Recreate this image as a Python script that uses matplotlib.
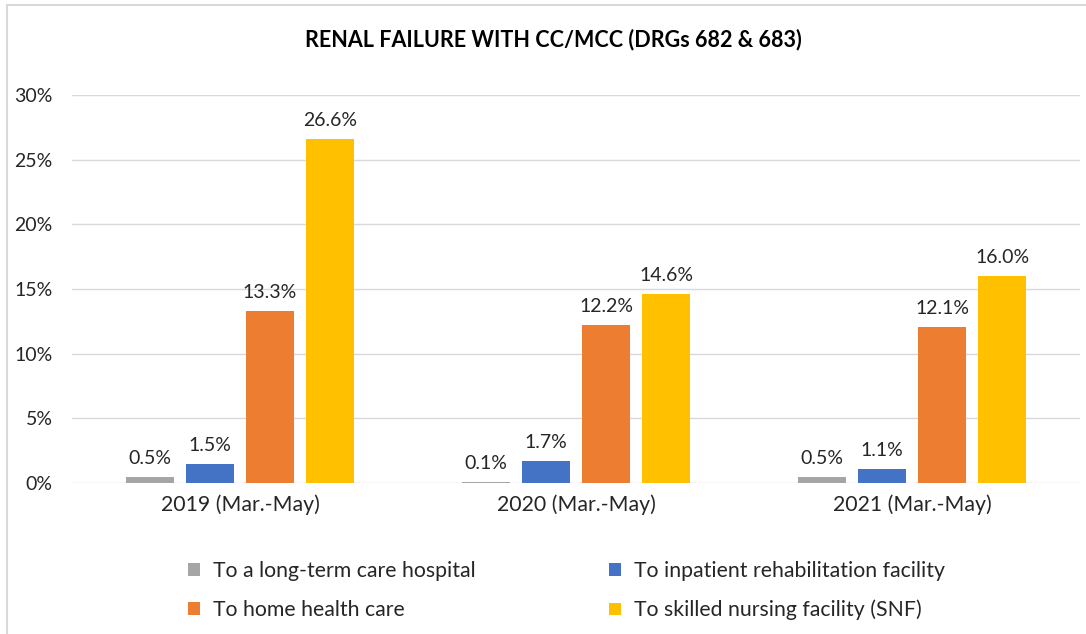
import matplotlib.pyplot as plt
import numpy as np
from matplotlib.lines import Line2D

# Data
categories = ["2019 (Mar.-May)", "2020 (Mar.-May)", "2021 (Mar.-May)"]
series_names = [
    "To a long-term care hospital",
    "To inpatient rehabilitation facility",
    "To home health care",
    "To skilled nursing facility (SNF)",
]
ltch = [0.5, 0.1, 0.5]
irf = [1.5, 1.7, 1.1]
hhc = [13.3, 12.2, 12.1]
snf = [26.6, 14.6, 16.0]
colors = ["#A5A5A5", "#4472C4", "#ED7D31", "#FFC000"]

plt.rcParams["font.family"] = ["Lato", "DejaVu Sans"]

fig = plt.figure(figsize=(10.86, 6.34), dpi=100)
ax = fig.add_axes([72 / 1086, 151 / 634, 1008 / 1086, 388 / 634])

x = np.arange(len(categories))
pitch = 0.179
width = 0.143
bars = []
for i, (vals, name, c) in enumerate(zip([ltch, irf, hhc, snf], series_names, colors)):
    offs = (i - 1.5) * pitch
    b = ax.bar(x + offs, vals, width, color=c, label=name, zorder=3)
    bars.append(b)
    for xi, v in zip(x, vals):
        ax.annotate(f"{v:.1f}%", (xi + offs, v), xytext=(0, 7), textcoords="offset points",
                    ha="center", va="bottom", fontsize=14, color="#262626")

ax.set_xlim(-0.5, 2.5)
ax.set_ylim(0, 30)
ax.set_yticks([0, 5, 10, 15, 20, 25, 30])
ax.set_yticklabels([f"{t}%" for t in [0, 5, 10, 15, 20, 25, 30]])
ax.set_xticks(x)
ax.set_xticklabels(categories)
ax.tick_params(length=0, labelsize=14, colors="#262626")
ax.tick_params(axis="x", labelsize=15.3, pad=8)
ax.tick_params(axis="y", pad=14)
ax.grid(axis="y", color="#D9D9D9", lw=1, zorder=0)
for s in ax.spines.values():
    s.set_visible(False)

fig.text(553 / 1086, 1 - 40 / 634, "RENAL FAILURE WITH CC/MCC (DRGs 682 & 683)",
         ha="center", va="center", fontsize=15.5, fontweight="bold", color="#000000")

# legend: column-wise fill -> reorder
order = [0, 2, 1, 3]
h = [bars[i] for i in order]
l = [series_names[i] for i in order]
fig.legend(h, l, ncol=2, loc="upper left", bbox_to_anchor=(169 / 1086, 1 - 542 / 634),
           frameon=False, fontsize=15.3, handlelength=0.55, handleheight=0.55,
           handletextpad=0.6, columnspacing=6.3, labelspacing=0.88, labelcolor="#262626")

# chart border (cropped screenshot)
fig.add_artist(Line2D([7 / 1086, 7 / 1086], [0, 1 - 5 / 634], color="#D9D9D9", lw=1.5))
fig.add_artist(Line2D([7 / 1086, 1], [1 - 5 / 634, 1 - 5 / 634], color="#D9D9D9", lw=1.5))

fig.savefig("out.png", dpi=100)
